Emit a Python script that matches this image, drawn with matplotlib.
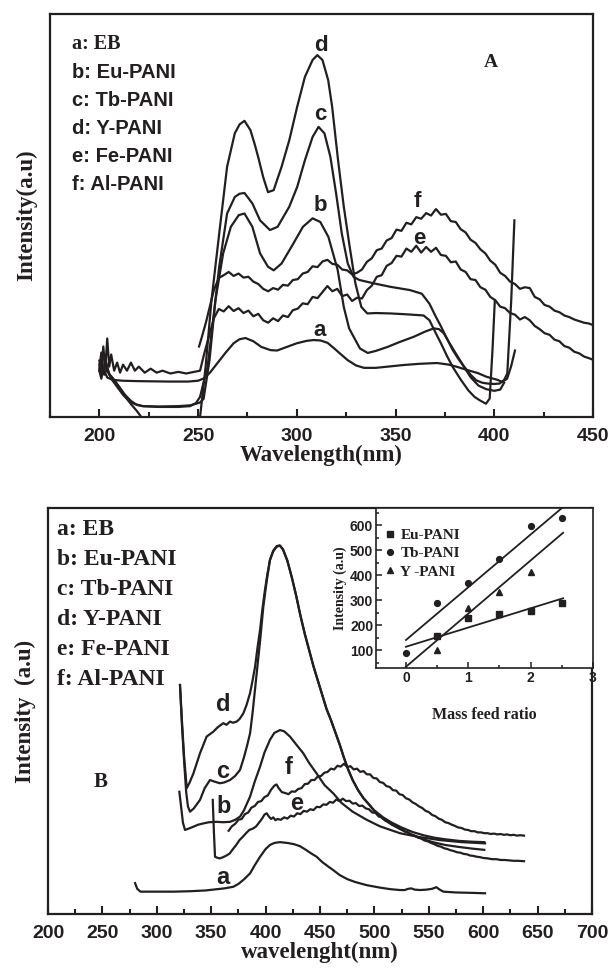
import numpy as np
import matplotlib
matplotlib.use('Agg')
from matplotlib import pyplot as plt
from matplotlib.ticker import MultipleLocator

INK = '#231f20'
SERIF = 'Liberation Serif'
SANS = 'Liberation Sans'

# ---- panel A: absorption spectra (intensity in % of axis height) ----
top_a_nm = [200, 201, 202, 204, 207, 212, 220, 235, 245, 250, 253, 256, 260, 264, 268, 271, 274, 278, 282,
            286.7, 290, 295, 300, 305, 308.5, 312, 315.6, 319, 322, 325.8, 330, 334, 340, 348, 354, 362, 371,
            377, 381.5, 386, 391.7, 396, 401.8, 404, 406.5, 408.5, 410.5]
top_a_int = [11.5, 9.5, 12, 9.8, 9.2, 9, 8.9, 8.8, 8.8, 9, 9.6, 11, 13.5, 16, 18.3, 19.3, 19.6, 18.8, 17.4,
             16.6, 16.5, 17.4, 18.3, 18.9, 19.1, 19, 18.4, 17, 15.7, 14.1, 12.8, 12.2, 12.2, 12.6, 12.9, 13.2, 13.4,
             13, 12.4, 11.7, 10.9, 10, 9.2, 8.7, 9.5, 12.5, 16.5]

top_b_nm = [200, 201, 202.5, 204, 206, 209, 212, 215, 218, 222, 230, 240, 246, 249, 251, 252.8, 255.8, 258.8,
            262.7, 266.6, 270.6, 273.5, 277.5, 281.4, 285.4, 288.3, 292.3, 298.2, 303.1, 308, 311.9, 316, 320.7,
            323.8, 326.5, 328.8, 332, 335.9, 340, 346, 352, 359.2, 365, 369.4, 372, 374.4, 378, 381.5, 385, 388,
            392, 396, 400, 403, 405]
top_b_int = [11.5, 14, 10.5, 12, 9.5, 7.5, 5.5, 4, 3.2, 2.7, 2.6, 2.7, 2.9, 3.3, 3.6, 4.5, 14.1, 29,
             40.6, 47.2, 50.1, 50.5, 47.2, 40.6, 37.3, 36.4, 38.1, 43, 47.2, 49.3, 48.4, 44.7, 36.5,
             27.3, 22, 19.9, 17, 15.9, 16.4, 17.4, 18.6, 19.9, 21.2, 22, 21.8, 20.8, 17.8, 15, 12.2, 9.9,
             7.8, 6.9, 6.5, 6.8, 8.5]

top_c_nm = [200, 201.5, 203, 204.5, 207, 210, 213, 216, 219, 222, 230, 240, 246, 249, 251, 252.5, 254.8, 257.8,
            260.7, 264.7, 268.6, 271, 273.5, 277.5, 281.4, 286.4, 290.3, 293, 296.2, 300.2, 304.1, 308, 311, 314,
            317, 319.9, 322.8, 325.8, 328.7, 331.7, 339.6, 347.5, 357.3, 363.3, 367.2, 370, 373.1, 376, 379, 382,
            384.9, 388, 390.9, 394, 396.8, 399.8, 402.7, 405, 406.6, 408.6, 410.2]
top_c_int = [13, 10.5, 14, 11, 9.5, 7.5, 5.5, 4, 3, 2.7, 2.5, 2.5, 2.7, 3.5, 5, 8, 12.4, 24.8,
             37.3, 50.5, 54.6, 55.4, 55.6, 53, 48.8, 46.4, 47.2, 49.5, 52.2, 57.1, 63.7, 69.5, 72, 70.4,
             64.6, 55.5, 45.5, 38.1, 34.8, 34, 33.1, 32.3, 31.5, 30.6, 28.1, 25.3, 22.4, 19.5, 16.6, 14.3,
             12.4, 10.5, 9.1, 8.5, 8.3, 8.2, 8.3, 9.2, 10.8, 29, 48.8]

top_d_nm = [200, 201, 202, 203.5, 205, 207, 210, 213, 216, 219, 222, 224, 248, 250, 251, 253.8, 256.8, 260.7,
            264.7, 268.6, 271, 273.5, 276.5, 278.5, 280.4, 283, 285.4, 288.3, 290, 292.3, 296.2, 300.2, 304.1,
            308, 310.4, 313, 315.9, 317.9, 320.9, 323.8, 326.8, 329.7, 332.7, 335.7, 340, 347.5, 355, 364.2,
            367.2, 370, 373.1, 376, 379, 383, 386.9, 390, 392.8, 395.8, 397.7, 399.1, 400.3]
top_d_int = [12, 16, 11, 13.5, 10.5, 9.5, 7.5, 5.2, 3.2, 1.5, -0.5, -2, -2, -0.5, 0, 12.4, 29, 45.5,
             62.1, 70.4, 72.6, 73.5, 71.2, 68, 64.6, 59.5, 55.8, 56.3, 58.8, 62.1, 68.7, 77, 84.4,
             88.6, 89.8, 88.6, 83.6, 77, 63.7, 52.2, 42.2, 33.1, 27.3, 25.7, 25.8, 25.7, 25.5, 25.2,
             24, 21.2, 18.2, 15.2, 12.4, 9.3, 6.6, 5, 4.1, 3.3, 4.6, 16.6, 29]

top_e_nm = [200, 201, 202, 203, 204, 205, 206, 207.5, 209, 210.5, 212, 214, 216, 218, 220, 223, 226, 229, 232,
            236, 240, 244, 248, 251, 253, 255.5, 258, 260.5, 263, 265.5, 268, 270.5, 273, 275.5, 278, 280.5,
            283, 285.5, 288, 290.5, 293, 295.5, 298, 300.5, 303, 305.5, 308, 310.5, 313, 315.5, 318, 320.5,
            323, 325.5, 328, 330.5, 333, 335.5, 338, 340.5, 343, 345.5, 348, 350.5, 353, 355.5, 358, 360.5,
            363, 365.5, 368, 370.5, 373, 375.5, 378, 380.5, 383, 385.5, 388, 390.5, 393, 395.5, 398, 400.5,
            403, 405.5, 408, 410.5, 413, 415.5, 418, 420.5, 423, 425.5, 428, 430.5, 433, 435.5, 438, 440.5,
            443, 445.5, 448, 450]
top_e_int = [14, 11, 17.5, 12, 19.5, 12.5, 15.5, 11.5, 13.5, 11, 13, 11.5, 13.5, 11.5, 12.5, 11, 12, 11, 11.5,
             10.8, 11.2, 10.8, 11.2, 11.5, 15.5, 20, 24.5, 26.8, 26.2, 27.5, 26.3, 27, 25.8, 26.4, 25, 25.6,
             24, 23.4, 24.5, 23.8, 25.2, 24.8, 26.5, 26.9, 28.2, 28, 29.8, 29.5, 31, 32.5, 31.2, 31.8,
             30, 30.4, 28.8, 29.6, 29.4, 31.5, 32.6, 34.8, 35.2, 37.5, 38.2, 40, 39.8, 41.8, 41, 42.5,
             40.8, 42.2, 41, 42, 40.2, 40, 38.4, 38.6, 36.6, 36, 34.2, 34, 32.2, 31.6, 29.8, 29,
             27.4, 27, 25.8, 25.4, 24.2, 24.8, 24, 22.6, 21.8, 20.8, 20.4, 19.2, 18.8, 17.6, 17.2, 16.2,
             15.8, 15, 14.6, 14.2]

top_f_nm = [250.5, 252, 254, 256, 258, 260.5, 263, 265.5, 268, 270.5, 273, 275.5, 278, 280.5, 283, 285.5, 288,
            290.5, 293, 295.5, 298, 300.5, 303, 305.5, 308, 310.5, 313, 315.5, 318, 320.5, 323, 325.5, 328,
            330.5, 333, 335.5, 338, 340.5, 343, 345.5, 348, 350.5, 353, 355.5, 358, 360.5, 363, 365.5, 368,
            370.5, 373, 375.5, 378, 380.5, 383, 385.5, 388, 390.5, 393, 395.5, 398, 400.5, 403, 405.5, 408,
            410.5, 413, 415.5, 418, 420.5, 423, 425.5, 428, 430.5, 433, 435.5, 438, 440.5, 443, 445.5, 448, 450]
top_f_int = [17.5, 20, 23.5, 27.5, 31.5, 34.5, 35.2, 36, 35, 35.6, 34.6, 34.8, 33.6, 33, 31.8, 31.2, 32,
             31.6, 32.8, 32.6, 34, 34.2, 35.6, 36, 37.4, 37.2, 38.6, 39, 38, 37.8, 36.6, 36.4, 35.4,
             35.8, 36.6, 38.5, 39.4, 41.4, 41.8, 43.8, 44.4, 46.5, 46.2, 48.2, 47.8, 49.6, 49.2, 50.6, 50,
             51.6, 50.2, 50.4, 48.6, 48.4, 46.6, 45.8, 44, 43.2, 41.6, 40.6, 38.8, 37.8, 35.8, 35, 33.6,
             33, 31.8, 32.2, 32, 29.8, 29.2, 27.8, 27.4, 26.4, 26, 25.2, 24.8, 24.2, 23.8, 23.4, 23.2, 22.8]

top_legend = ['a: EB', 'b: Eu-PANI', 'c: Tb-PANI', 'd: Y-PANI', 'e: Fe-PANI', 'f: Al-PANI']
top_tags = ['a', 'b', 'c', 'd', 'e', 'f']
top_tag_nm = [311.5, 312, 312, 312, 362, 361]
top_tag_int = [21.5, 52.5, 75, 92.3, 44.4, 53.5]

# ---- panel B: emission spectra ----
bot_a_nm = [280, 282, 285, 300, 315, 330, 345, 355, 362, 370.3, 375, 380, 385.7, 390, 394.9, 400, 404, 408,
            413.2, 420, 426, 431.6, 437, 442, 446.9, 452, 457, 462.2, 468, 475, 482, 492.9, 505, 515, 523.5,
            528, 531, 534, 537, 542, 548, 553, 557, 560, 563.4, 575, 590, 601.7]
bot_a_int = [7.6, 6.2, 5.5, 5.5, 5.5, 5.6, 5.8, 6.1, 6.3, 6.7, 7.4, 8.5, 10, 12, 14.1, 16, 17, 17.5,
             17.7, 17.5, 17.2, 16.7, 15.8, 14.9, 14.1, 12.8, 11.8, 10.8, 9.6, 8.6, 7.9, 7.1, 6.5, 6.1, 5.9,
             5.9, 6.2, 6.3, 6, 5.9, 6, 6.2, 6.6, 6, 5.5, 5.3, 5.2, 5.1]

bot_b_nm = [320.7, 322.5, 324, 325.9, 329, 333.6, 338, 342.7, 348, 355, 361, 367.3, 372, 376.5, 380, 383,
            385.7, 390, 394.9, 399, 404, 408, 413.2, 417, 422.4, 428, 434.6, 440, 446.9, 454, 462.2, 470, 480,
            492.9, 505, 523.5, 540, 560.3, 580, 601.7]
bot_b_int = [30.1, 26, 22.5, 20.7, 21, 21.5, 22, 22.3, 22.6, 22.7, 22.6, 22.7, 23.2, 24, 25.5, 27.3,
             28.9, 32.6, 36.3, 39.8, 42.9, 44.6, 45.3, 45, 43.7, 41.8, 39.6, 37.2, 34.6, 31.8, 29.7, 27.3, 25.2,
             23.2, 21.6, 19.9, 19, 18.2, 17.7, 17.4]

bot_c_nm = [321.3, 323, 325, 327, 328.6, 330.5, 334, 339.7, 344, 348.9, 353, 358.1, 362, 367.3, 372, 376.5,
            380, 383, 385.7, 388, 391.8, 395, 397.9, 401, 404, 407, 410.2, 413, 416, 420, 424, 428, 432, 436,
            440, 444, 448, 452, 456, 460, 464, 468, 472, 476, 480, 485, 490, 495, 500, 508, 516, 525, 535, 545,
            555, 565, 578, 590, 601]
bot_c_int = [56.4, 47, 38, 30, 26.5, 25.2, 26, 28.1, 31, 33, 32.6, 32.2, 32.4, 33, 34, 35.5,
             38.5, 41.5, 44.5, 49.5, 59.3, 67.5, 75.7, 82, 87.2, 89.5, 90.6, 90.8, 89.8, 87, 83, 78.5, 73.5, 69,
             65, 61, 57.5, 54, 50.5, 47.8, 44.8, 41.8, 38.5, 35.5, 33, 30.5, 28.5, 27, 25.3, 23.4, 22, 20.7, 19.5, 18.4,
             17.6, 17, 16.5, 16.1, 15.8]

bot_d_nm = [321.3, 323, 325, 327.5, 330, 333.6, 339.7, 345.8, 351.9, 356, 361.1, 364, 367.3, 370, 373.4, 376,
            379.5, 382.5, 385.7, 388, 390.3, 392.5, 394.9, 397, 399.4, 401.5, 404, 407, 410.2, 413.2, 416, 420,
            424, 428, 432, 436, 440, 444, 448, 452, 456, 460, 464, 468, 472, 476, 480, 485, 490, 495, 500, 508,
            516, 525, 535, 545, 555, 565, 578, 590, 601]
bot_d_int = [56.4, 48, 39, 31, 32.3, 34.6, 39.6, 43.7, 44.9, 46, 47, 46.6, 47.4, 47.1, 47.4, 48,
             49.4, 51.5, 54.4, 57.5, 60.9, 65.5, 70, 75, 79.8, 83.5, 87.2, 89.3, 90.5, 90.7, 89.8, 87,
             83, 78.5, 73.5, 69, 65, 61, 57.5, 54, 50.5, 47.8, 44.8, 41.8, 38.5, 35.5, 33, 30.5, 28.5, 27, 25.5, 23.8,
             22.5, 21.3, 20.2, 19.4, 18.8, 18.4, 18, 17.8, 17.7]

bot_e_nm = [351.4, 352.5, 353.5, 356, 358, 361, 364, 367, 370, 373, 376, 379, 382, 385, 388, 391, 394, 397, 399,
            401, 403, 405, 407, 409, 411, 414, 417, 420, 423, 426, 429, 432, 435, 438, 441, 444, 447, 450, 453,
            456, 459, 462, 465, 468, 471, 474, 477, 480, 483, 486, 489, 492, 495, 498, 501, 504, 507, 510, 513,
            516, 519, 522, 525, 528, 531, 534, 537, 540, 543, 546, 549, 552, 555, 558, 561, 564, 567, 570, 573,
            576, 579, 582, 585, 588, 591, 594, 597, 600, 604, 608, 612, 616, 620, 624, 628, 632, 637.5]
bot_e_int = [28.1, 20, 14.1, 13.8, 13.7, 14, 14.4, 14.9, 16, 17, 18.2, 19, 19.9, 20.7, 21, 21.5, 22.5, 23.6, 24.5,
             24.8, 24, 23.4, 23.8, 23.1, 23.4, 23.2, 23.8, 23.5, 24.2, 24, 24.8, 24.6, 25.4, 25.2, 25.8, 25.6, 26.4,
             26.3, 27, 26.9, 27.6, 27.4, 28.2, 27.8, 28.4, 27.8, 27.9, 27.2, 27.3, 26.6, 26.7, 26, 25.8, 25, 24.9,
             24, 23.8, 23, 22.8, 22.1, 21.9, 21.2, 21, 20.3, 20.1, 19.5, 19.3, 18.8, 18.6, 18.1, 17.9, 17.5, 17.2,
             16.8, 16.6, 16.2, 16, 15.7, 15.5, 15.2, 15.1, 14.8, 14.7, 14.4, 14.3, 14.1, 14, 13.8, 13.7, 13.5,
             13.5, 13.3, 13.3, 13.2, 13.1, 13.1, 13]

bot_f_nm = [366, 369, 372, 375, 378, 381, 384, 387, 390, 393, 396, 399, 402, 405, 408, 410, 412, 415, 418, 421,
            424, 427, 430, 433, 436, 439, 442, 445, 448, 451, 454, 457, 460, 463, 466, 469, 472, 475, 478, 481,
            484, 487, 490, 493, 496, 499, 502, 505, 508, 511, 514, 517, 520, 523, 526, 529, 532, 535, 538, 541,
            544, 547, 550, 553, 556, 559, 562, 565, 568, 571, 574, 577, 580, 583, 586, 589, 592, 595, 598, 601,
            604, 607, 610, 613, 616, 619, 622, 625, 628, 631, 634, 637.5]
bot_f_int = [20.5, 21.6, 22.2, 23.2, 23.4, 24.6, 25, 26.2, 26.6, 27.6, 27.8, 28.8, 29.2, 30.6, 31.6, 31.9, 31,
             30, 29.8, 29.5, 30.2, 30.1, 30.8, 31, 32, 32.1, 33, 33, 33.9, 34, 34.8, 35, 35.8, 35.6, 36.5, 36.3,
             37, 36.2, 36.4, 35.6, 35.8, 35, 35.2, 34.4, 34.4, 33.5, 33.4, 32.5, 32.3, 31.5, 31.3, 30.5, 30.4,
             29.5, 29.3, 28.5, 28.2, 27.5, 27.1, 26.5, 26.1, 25.4, 25.1, 24.4, 24.1, 23.5, 23.2, 22.6, 22.4, 22,
             21.7, 21.3, 21.2, 20.8, 20.7, 20.4, 20.4, 20.1, 20.1, 19.9, 19.9, 19.7, 19.8, 19.6, 19.7, 19.5, 19.6,
             19.4, 19.5, 19.3, 19.4, 19.3]

bot_legend = ['a: EB', 'b: Eu-PANI', 'c: Tb-PANI', 'd: Y-PANI', 'e: Fe-PANI', 'f: Al-PANI']
bot_tag_nm = [361, 361, 361, 361, 428.6, 421]
bot_tag_int = [8.9, 26.4, 35, 51.5, 27.3, 36]

# ---- inset: peak intensity vs mass feed ratio ----
eu_ratio = [0.5, 1.0, 1.5, 2.0, 2.5]
eu_peak = [156, 227, 243, 257, 289]
tb_ratio = [0.0, 0.5, 1.0, 1.5, 2.0, 2.5]
tb_peak = [87, 289, 367, 464, 596, 627]
y_ratio = [0.5, 1.0, 1.5, 2.0]
y_peak = [100, 267, 333, 413]
fit_ratio = [0.0, 2.52]
eu_fit = [113, 307]
tb_fit = [140, 672]
y_fit = [33, 569]


def style_main(ax, xlim, major):
    ax.set_xlim(xlim)
    ax.set_ylim(0, 100)
    ax.set_yticks([])
    ax.xaxis.set_major_locator(MultipleLocator(major))
    ax.xaxis.set_minor_locator(MultipleLocator(major / 2))
    ax.tick_params(axis='x', which='both', direction='in', top=False, width=1.5, color=INK,
                   labelsize=14, labelcolor=INK, pad=8)
    ax.tick_params(axis='x', which='major', length=6)
    ax.tick_params(axis='x', which='minor', length=3.5)
    for lab in ax.get_xticklabels():
        lab.set_fontfamily(SANS)
        lab.set_fontweight('bold')
    for sp in ax.spines.values():
        sp.set_linewidth(1.6)
        sp.set_color(INK)


fig = plt.figure(figsize=(6.11, 9.68), dpi=100)

# panel A
ax1 = fig.add_axes([0.0818, 0.5692, 0.8887, 0.4163])
for nm, val in [(top_a_nm, top_a_int), (top_b_nm, top_b_int), (top_c_nm, top_c_int),
                (top_d_nm, top_d_int), (top_e_nm, top_e_int), (top_f_nm, top_f_int)]:
    ax1.plot(nm, val, color=INK, lw=1.6)
style_main(ax1, (175, 450), 50)
ax1.set_xlabel('Wavelength(nm)', fontfamily=SERIF, fontweight='bold', fontsize=16.5, color=INK, labelpad=0)
ax1.set_ylabel('Intensity(a.u)', fontfamily=SERIF, fontweight='bold', fontsize=16.5, color=INK, labelpad=9)
for i, txt in enumerate(top_legend):
    fam = SERIF if i == 0 else SANS
    ax1.text(0.04, 0.925 - i * 0.0695, txt, transform=ax1.transAxes, fontfamily=fam,
             fontweight='bold', fontsize=14.5, color=INK, va='center', ha='left')
for tag, nm, val in zip(top_tags, top_tag_nm, top_tag_int):
    ax1.text(nm, val, tag, fontfamily=SANS, fontweight='bold', fontsize=16, color=INK,
             ha='center', va='center')
ax1.text(0.812, 0.88, 'A', transform=ax1.transAxes, fontfamily=SERIF, fontweight='bold',
         fontsize=14, color=INK, ha='center', va='center')

# panel B
ax2 = fig.add_axes([0.0786, 0.0558, 0.8903, 0.4194])
for nm, val in [(bot_a_nm, bot_a_int), (bot_b_nm, bot_b_int), (bot_c_nm, bot_c_int),
                (bot_d_nm, bot_d_int), (bot_e_nm, bot_e_int), (bot_f_nm, bot_f_int)]:
    ax2.plot(nm, val, color=INK, lw=1.6)
style_main(ax2, (200, 700), 50)
ax2.set_xlabel('wavelenght(nm)', fontfamily=SERIF, fontweight='bold', fontsize=16.5, color=INK, labelpad=0)
ax2.set_ylabel('Intensity  (a.u)', fontfamily=SERIF, fontweight='bold', fontsize=16.5, color=INK, labelpad=9)
for i, txt in enumerate(bot_legend):
    ax2.text(0.016, 0.946 - i * 0.0739, txt, transform=ax2.transAxes, fontfamily=SERIF,
             fontweight='bold', fontsize=17, color=INK, va='center', ha='left')
for tag, nm, val in zip(top_tags, bot_tag_nm, bot_tag_int):
    ax2.text(nm, val, tag, fontfamily=SANS, fontweight='bold', fontsize=17, color=INK,
             ha='center', va='center')
ax2.text(0.096, 0.325, 'B', transform=ax2.transAxes, fontfamily=SERIF, fontweight='bold',
         fontsize=15, color=INK, ha='center', va='center')

# inset
ins = fig.add_axes([0.6154, 0.3099, 0.3552, 0.1653])
ins.set_facecolor('white')
ins.plot(fit_ratio, eu_fit, color=INK, lw=1.3)
ins.plot(fit_ratio, tb_fit, color=INK, lw=1.3)
ins.plot(fit_ratio, y_fit, color=INK, lw=1.3)
ins.plot(eu_ratio, eu_peak, 's', color=INK, ms=4, label='Eu-PANI')
ins.plot(tb_ratio, tb_peak, 'o', color=INK, ms=4.2, label='Tb-PANI')
ins.plot(y_ratio, y_peak, '^', color=INK, ms=4.5, label='Y -PANI')
ins.set_xlim(-0.48, 3.0)
ins.set_ylim(28, 668)
ins.xaxis.set_major_locator(MultipleLocator(1))
ins.xaxis.set_minor_locator(MultipleLocator(0.5))
ins.yaxis.set_major_locator(MultipleLocator(100))
ins.yaxis.set_minor_locator(MultipleLocator(50))
ins.set_yticks([100, 200, 300, 400, 500, 600])
ins.tick_params(which='both', direction='in', width=1.1, color=INK, labelsize=10, labelcolor=INK, pad=2)
ins.tick_params(which='major', length=4)
ins.tick_params(which='minor', length=2)
for lab in ins.get_xticklabels() + ins.get_yticklabels():
    lab.set_fontfamily(SANS)
    lab.set_fontweight('bold')
for sp in ins.spines.values():
    sp.set_linewidth(1.2)
    sp.set_color(INK)
ins.set_xlabel('Mass feed ratio', fontfamily=SERIF, fontweight='bold', fontsize=11.5, color=INK, labelpad=16)
ins.set_ylabel('Intensity (a.u)', fontfamily=SERIF, fontweight='bold', fontsize=10, color=INK, labelpad=2)
leg = ins.legend(loc='upper left', frameon=False, handlelength=0.6, handletextpad=0.4,
                 borderaxespad=0.2, labelspacing=0.3, prop={'family': SERIF, 'weight': 'bold', 'size': 11},
                 bbox_to_anchor=(0.0, 0.93))
for t in leg.get_texts():
    t.set_color(INK)

fig.savefig('out.png', dpi=100, facecolor='white')
